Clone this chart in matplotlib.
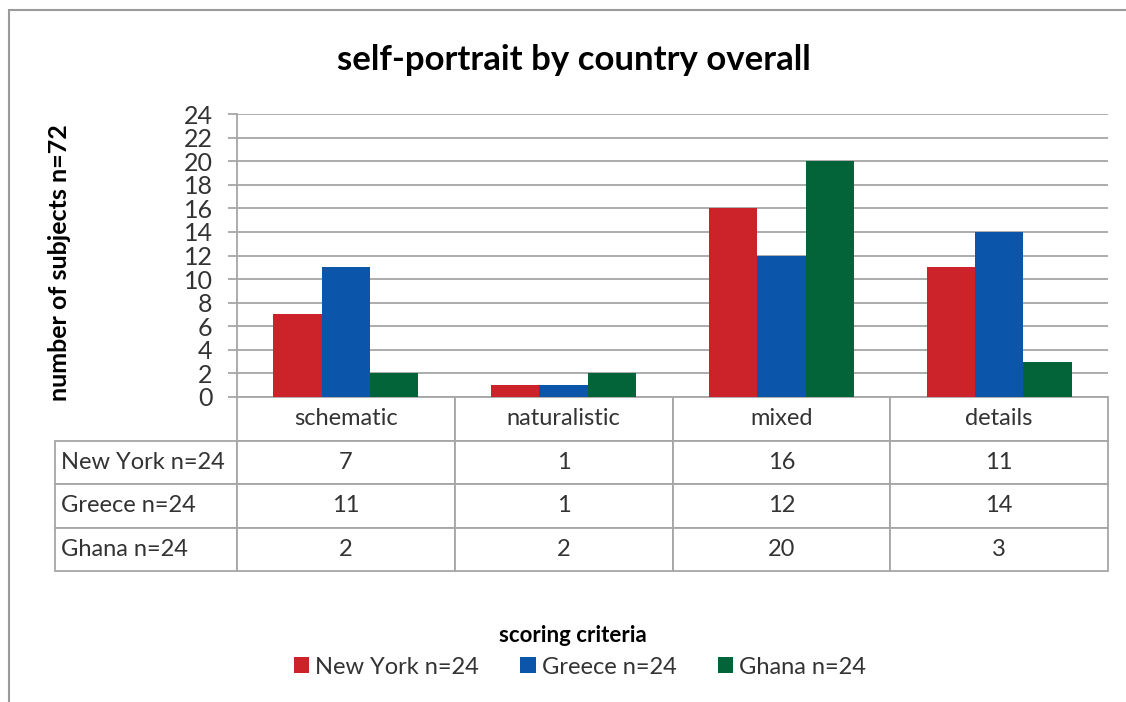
import numpy as np
import matplotlib.pyplot as plt
from matplotlib.patches import Rectangle
from matplotlib.table import Table

# Data
categories = ['schematic', 'naturalistic', 'mixed', 'details']
series_names = ['New York n=24', 'Greece n=24', 'Ghana n=24']
new_york = [7, 1, 16, 11]
greece = [11, 1, 12, 14]
ghana = [2, 2, 20, 3]
colors = ['#cc2229', '#0b56ab', '#03643a']

plt.rcParams['font.family'] = ['Lato', 'DejaVu Sans']
grid_color = '#a6a6a6'
text_color = '#333333'

W, H = 1126, 702
fig = plt.figure(figsize=(W / 100, H / 100), dpi=100)

# plot area in pixel terms
left, right, top, bottom = 237, 1108, 114, 397
ax = fig.add_axes([left / W, 1 - bottom / H, (right - left) / W, (bottom - top) / H])

x = np.arange(len(categories))
bar_width = 0.222
for i, vals in enumerate([new_york, greece, ghana]):
    ax.bar(x + (i - 1) * bar_width, vals, width=bar_width, color=colors[i],
           label=series_names[i], zorder=3)

ax.set_xlim(-0.5, len(categories) - 0.5)
ax.set_ylim(0, 24)
ax.set_yticks(np.arange(0, 25, 2))
ax.set_xticks([])
ax.yaxis.grid(True, color=grid_color, linewidth=1.3, zorder=0)
ax.tick_params(axis='y', length=6.5, width=1.3, color=grid_color, pad=11,
               labelsize=18, labelcolor=text_color)
for s in ['top', 'right', 'bottom']:
    ax.spines[s].set_visible(False)
ax.spines['left'].set_color(grid_color)
ax.spines['left'].set_linewidth(1.3)

# data table under the bars (bbox covers the value columns; labels hang off the left)
tab_h = (571 - bottom) / (bottom - top)
tb = Table(ax, bbox=[0, -tab_h, 1, tab_h])
col_w = 0.25
lab_w = col_w * 182 / 218
row_h = 0.25
for j, cat in enumerate(categories):
    tb.add_cell(0, j, width=col_w, height=row_h, text=cat, loc='center',
                edgecolor=grid_color)
for r, (name, vals) in enumerate(zip(series_names, [new_york, greece, ghana]), start=1):
    c = tb.add_cell(r, -1, width=lab_w, height=row_h, text=name, loc='left',
                    edgecolor=grid_color)
    c.PAD = 0.03
    for j, v in enumerate(vals):
        tb.add_cell(r, j, width=col_w, height=row_h, text=str(v), loc='center',
                    edgecolor=grid_color)
tb.auto_set_font_size(False)
tb.set_fontsize(17)
for cell in tb.get_celld().values():
    cell.set_linewidth(1.3)
    cell.get_text().set_color(text_color)
ax.add_table(tb)

# titles
fig.text(574 / W, 1 - 60 / H, 'self-portrait by country overall', ha='center', va='center',
         fontsize=25, fontweight='bold', color='black')
fig.text(60 / W, 1 - 263 / H, 'number of subjects n=72', ha='center', va='center',
         rotation=90, fontsize=18, fontweight='bold', color='black')
fig.text(573 / W, 1 - 635 / H, 'scoring criteria', ha='center', va='center',
         fontsize=16, fontweight='bold', color='black')

handles, labels = ax.get_legend_handles_labels()
leg = fig.legend(handles, labels, loc='center', bbox_to_anchor=(580 / W, 1 - 667 / H), ncol=3,
                 frameon=False, handlelength=0.65, handleheight=0.65, handletextpad=0.25,
                 columnspacing=1.75, fontsize=17)
for t in leg.get_texts():
    t.set_color(text_color)

# outer chart frame
fig.add_artist(Rectangle((9 / W, -0.1), 2, 1.1 - 10 / H, transform=fig.transFigure,
                         fill=False, edgecolor='#9a9a9a', linewidth=1.5))

fig.savefig('out.png', dpi=100)
